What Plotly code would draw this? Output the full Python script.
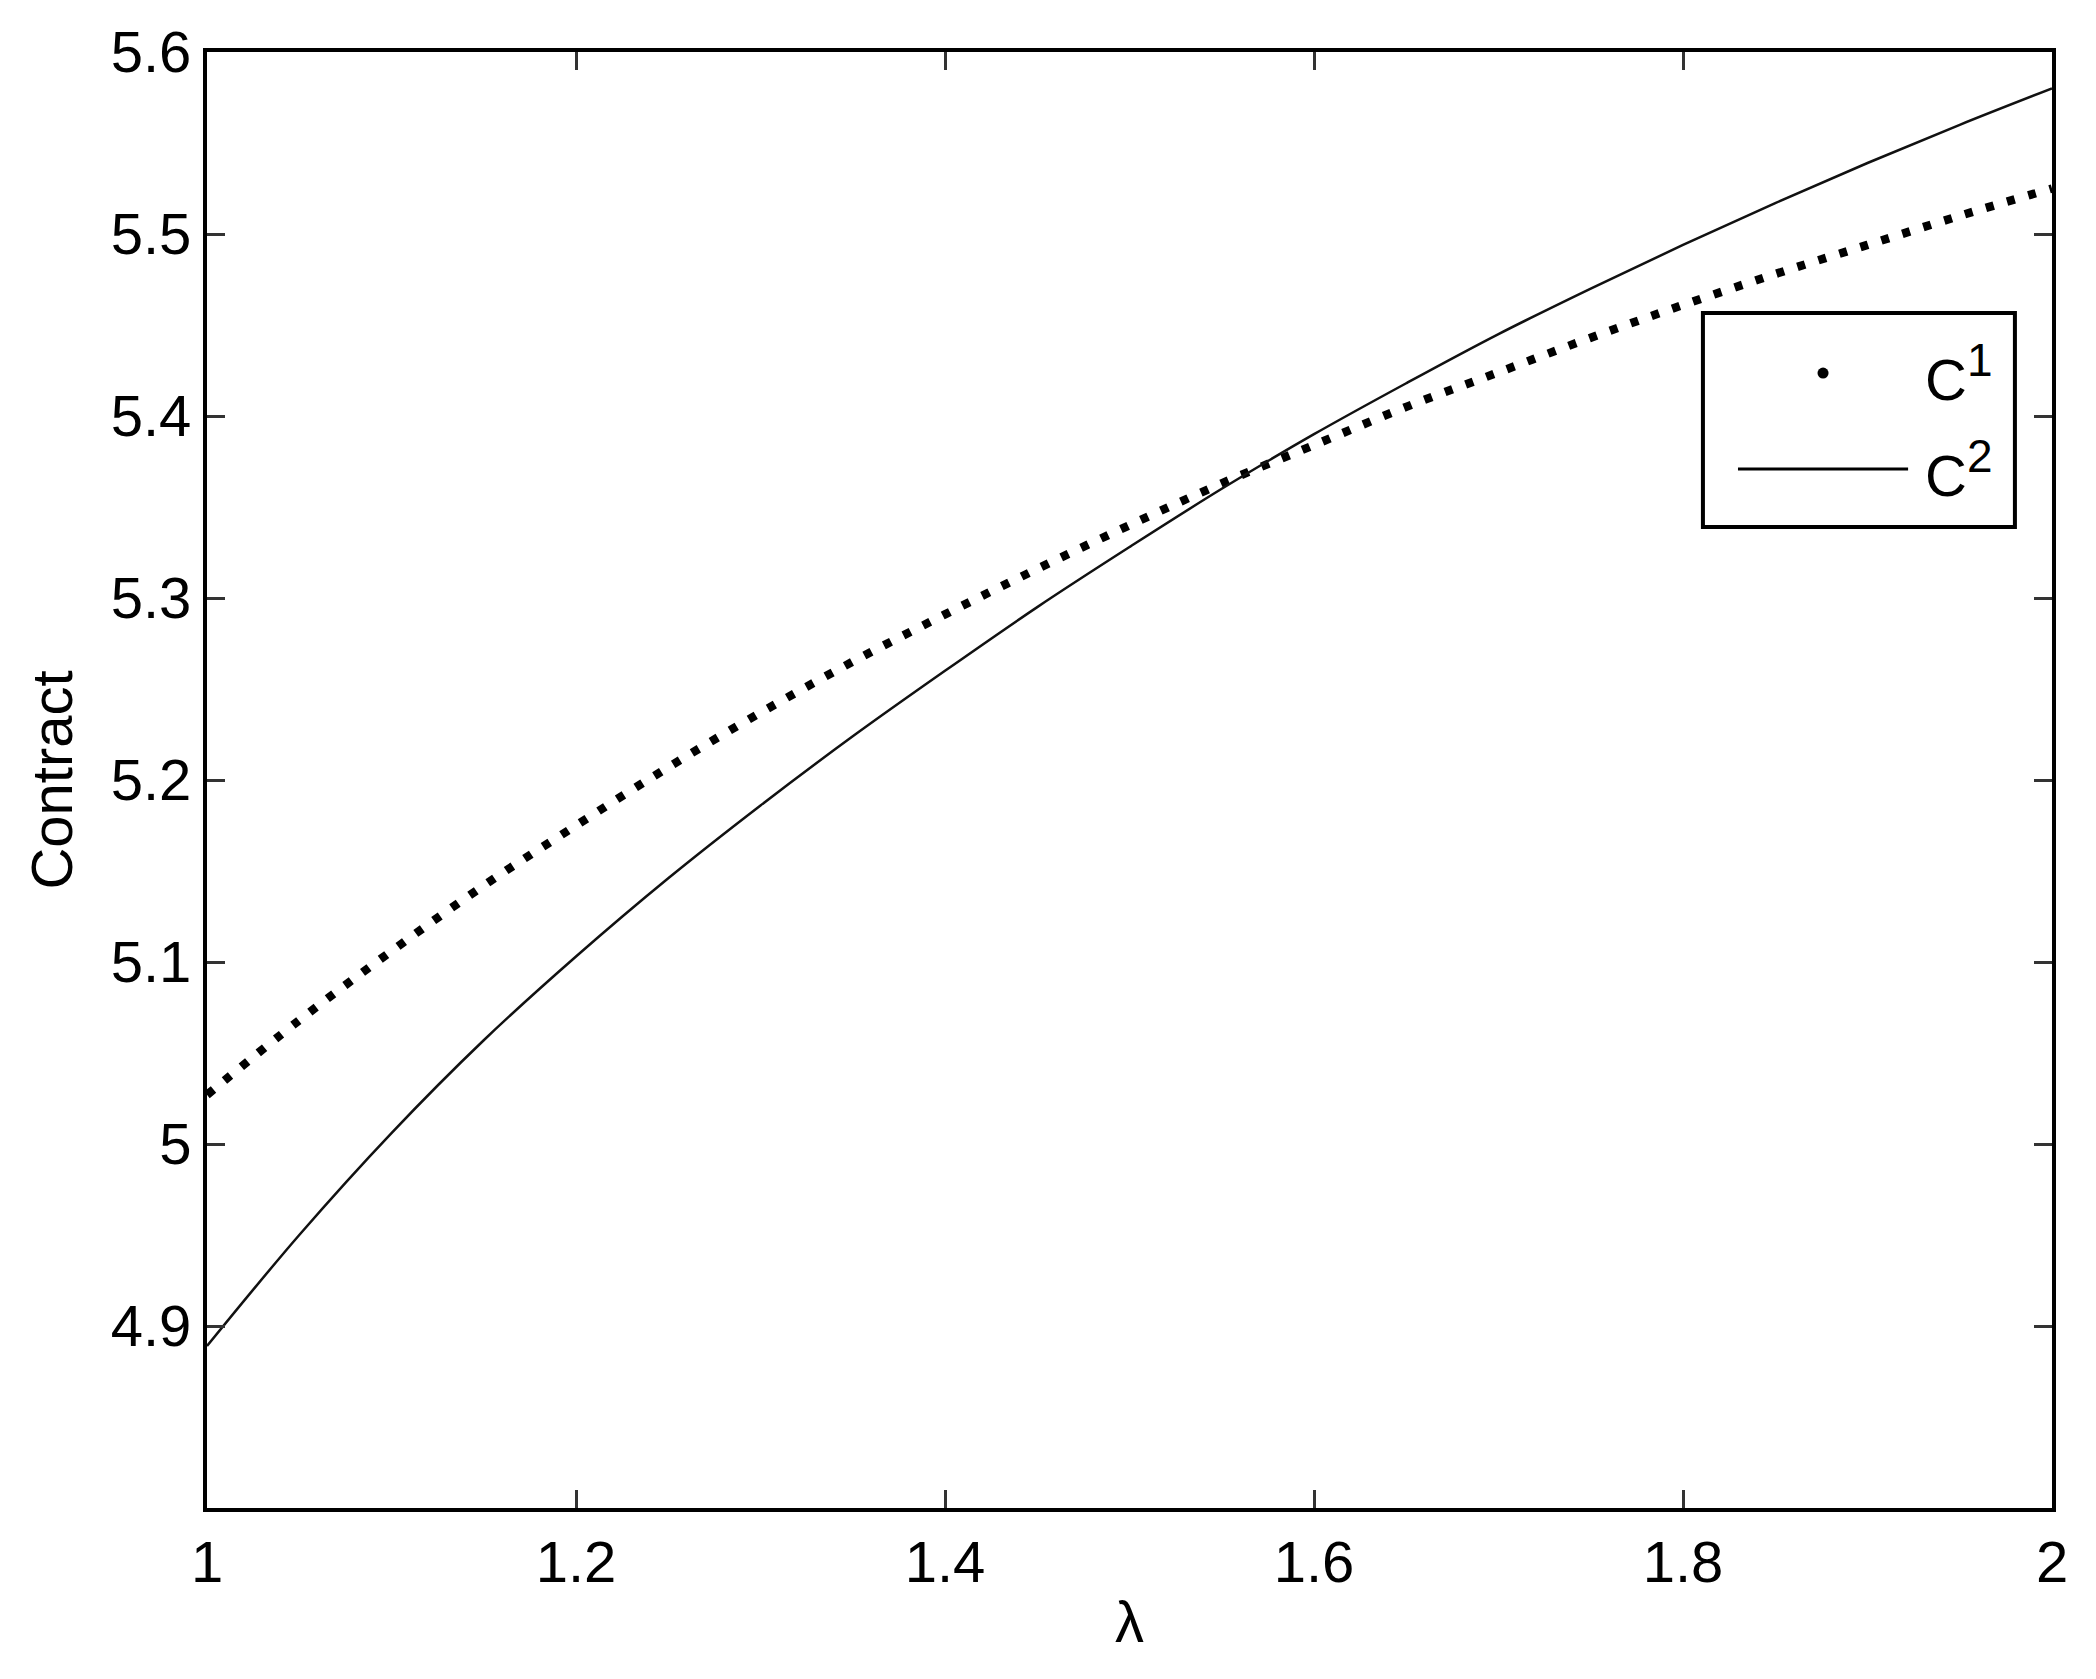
import plotly.graph_objects as go

# values (lambda in steps of 0.05)
lam = [1.00, 1.05, 1.10, 1.15, 1.20, 1.25, 1.30, 1.35, 1.40, 1.45, 1.50,
       1.55, 1.60, 1.65, 1.70, 1.75, 1.80, 1.85, 1.90, 1.95, 2.00]
c1 = [5.027, 5.068, 5.106, 5.142, 5.175, 5.207, 5.237, 5.265, 5.291, 5.316, 5.340,
      5.363, 5.384, 5.405, 5.424, 5.443, 5.461, 5.478, 5.494, 5.510, 5.525]
c2 = [4.889, 4.950, 5.006, 5.057, 5.103, 5.146, 5.186, 5.224, 5.260, 5.295, 5.328,
      5.360, 5.390, 5.418, 5.445, 5.470, 5.494, 5.517, 5.539, 5.560, 5.580]

x_ticks = [1, 1.2, 1.4, 1.6, 1.8, 2]
x_ticktext = ["1", "1.2", "1.4", "1.6", "1.8", "2"]
y_ticks = [4.9, 5.0, 5.1, 5.2, 5.3, 5.4, 5.5, 5.6]
y_ticktext = ["4.9", "5", "5.1", "5.2", "5.3", "5.4", "5.5", "5.6"]

FONT = "Arial, Liberation Sans, sans-serif"

fig = go.Figure()
fig.add_trace(go.Scatter(
    x=lam, y=c1, mode="lines", name="C<sup>1</sup>",
    line=dict(color="black", width=8.5, dash="8px,14px", shape="spline"),
))
fig.add_trace(go.Scatter(
    x=lam, y=c2, mode="lines", name="C<sup>2</sup>",
    line=dict(color="#111", width=2.5, shape="spline"),
))

axis_style = dict(
    showgrid=False, zeroline=False,
    showline=True, linecolor="black", linewidth=4, mirror="ticks",
    ticks="inside", ticklen=18, tickwidth=3, tickcolor="#333",
    tickfont=dict(family=FONT, size=58, color="black"),
)

fig.update_xaxes(range=[1, 2], tickvals=x_ticks, ticktext=x_ticktext,
                 title=dict(text="λ", font=dict(family=FONT, size=58, color="black"), standoff=10),
                 **axis_style)
fig.update_yaxes(range=[4.8, 5.6], tickvals=y_ticks, ticktext=y_ticktext,
                 title=dict(text="Contract", font=dict(family=FONT, size=58, color="black"), standoff=20),
                 **axis_style)

# MATLAB-style legend box drawn by hand
fig.add_shape(type="rect", xref="paper", yref="paper", x0=0.8108, x1=0.9799, y0=0.6738, y1=0.8207,
              line=dict(color="black", width=4), fillcolor="white", layer="above")
fig.add_shape(type="circle", xref="paper", yref="paper", x0=0.8729, x1=0.8789, y0=0.7757, y1=0.7833,
              line=dict(color="black", width=0), fillcolor="black", layer="above")
fig.add_shape(type="line", xref="paper", yref="paper", x0=0.8298, x1=0.9220, y0=0.7136, y1=0.7136,
              line=dict(color="black", width=3), layer="above")
for txt, yy in [("C<sup><span style='font-size:46px'>1</span></sup>", 0.7795),
                ("C<sup><span style='font-size:46px'>2</span></sup>", 0.7136)]:
    fig.add_annotation(text=txt, xref="paper", yref="paper", x=0.930, y=yy,
                       xanchor="left", yanchor="middle", showarrow=False,
                       font=dict(family=FONT, size=58, color="black"))

# the page body adds an 8px offset, so the figure is sized to fit the window
fig.update_layout(
    width=2088, height=1671,
    margin=dict(l=199, r=44, t=44, b=171),
    paper_bgcolor="white", plot_bgcolor="white",
    showlegend=False,
)

fig.write_html("out.html")
